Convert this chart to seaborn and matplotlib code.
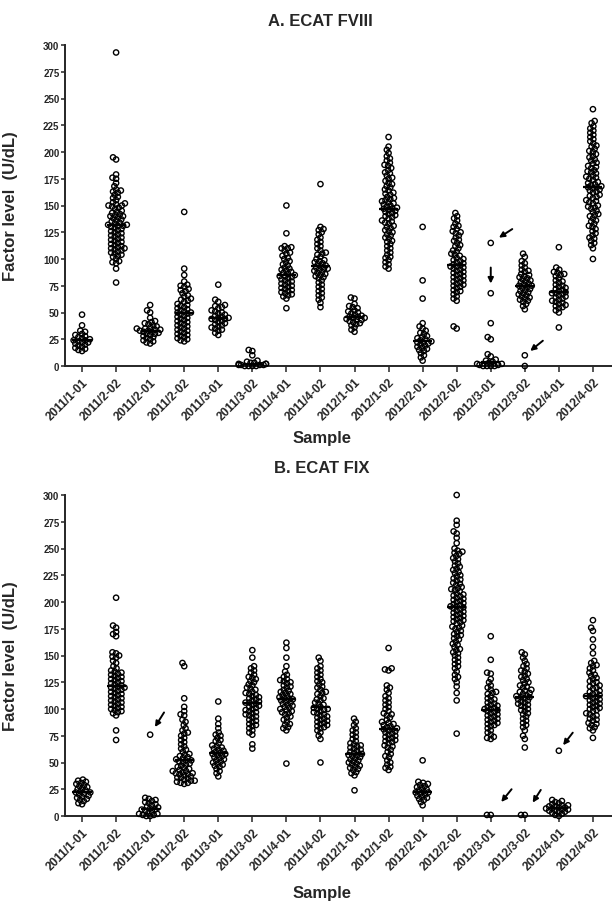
import numpy as np
import pandas as pd
import matplotlib
matplotlib.use("Agg")
import matplotlib.pyplot as plt
import seaborn as sns

# ---------------- data ----------------
labels = ["2011/1-01", "2011/2-02", "2011/2-01", "2011/2-02", "2011/3-01", "2011/3-02",
          "2011/4-01", "2011/4-02", "2012/1-01", "2012/1-02", "2012/2-01", "2012/2-02",
          "2012/3-01", "2012/3-02", "2012/4-01", "2012/4-02"]

# A. ECAT FVIII (U/dL)
fviii_2011_1_01 = [48, 38, 33, 32, 30, 29, 28, 27, 26, 25, 24, 24, 23, 22, 22, 21, 20, 19, 18, 17, 16, 15, 14]
fviii_2011_1_02 = [293, 195, 193, 179, 176, 175, 171, 168, 165, 164, 163, 162, 160, 158, 157, 155, 153, 152,
                   151, 150, 150, 149, 148, 147, 145, 144, 143, 142, 141, 140, 140, 139, 138, 137, 136, 135,
                   134, 133, 132, 132, 131, 131, 130, 129, 128, 127, 126, 125, 124, 123, 122, 121, 120, 119,
                   118, 117, 116, 115, 114, 113, 112, 111, 110, 110, 109, 108, 107, 106, 105, 104, 103, 102,
                   100, 98, 97, 96, 91, 78]
fviii_2011_2_01 = [57, 52, 50, 45, 42, 41, 40, 39, 38, 37, 36, 35, 35, 34, 34, 33, 33, 32, 32, 31, 30, 30, 29,
                   28, 27, 26, 25, 24, 23, 22, 21]
fviii_2011_2_02 = [144, 91, 85, 79, 76, 75, 74, 72, 71, 70, 68, 66, 65, 63, 62, 61, 60, 58, 57, 56, 55, 54, 53,
                   52, 51, 50, 50, 49, 48, 47, 46, 45, 44, 43, 42, 41, 40, 39, 38, 37, 36, 35, 34, 33, 32, 31,
                   30, 29, 28, 27, 26, 25, 24, 23]
fviii_2011_3_01 = [76, 62, 60, 57, 56, 55, 54, 52, 51, 50, 49, 48, 47, 46, 45, 45, 44, 44, 43, 42, 41, 40, 39,
                   38, 37, 36, 35, 34, 33, 31, 29]
fviii_2011_3_02 = [15, 14, 10, 5, 4, 3, 3, 2, 2, 2, 1, 1, 1, 1, 0, 0, 0, 0]
fviii_2011_4_01 = [150, 124, 112, 111, 110, 110, 108, 106, 105, 103, 101, 100, 98, 97, 95, 94, 92, 91, 90, 89,
                   88, 87, 86, 85, 84, 84, 83, 82, 81, 80, 79, 78, 77, 76, 75, 74, 73, 72, 71, 70, 69, 68, 67,
                   66, 65, 63, 54]
fviii_2011_4_02 = [170, 130, 128, 127, 125, 123, 120, 118, 116, 114, 112, 110, 108, 106, 105, 104, 102, 100, 99,
                   98, 97, 96, 95, 94, 93, 92, 91, 91, 90, 89, 88, 87, 86, 85, 84, 83, 82, 80, 78, 76, 74, 72,
                   70, 68, 66, 64, 62, 59, 55]
fviii_2012_1_01 = [64, 63, 58, 56, 55, 54, 52, 51, 50, 49, 48, 47, 46, 46, 45, 45, 44, 43, 43, 42, 41, 40, 39,
                   38, 36, 34, 32]
fviii_2012_1_02 = [214, 205, 202, 199, 196, 194, 192, 190, 188, 187, 185, 183, 181, 180, 178, 176, 175, 173, 171,
                   170, 168, 167, 165, 164, 162, 161, 160, 158, 157, 156, 155, 154, 153, 152, 151, 150, 149, 148,
                   147, 147, 146, 145, 144, 143, 142, 141, 140, 139, 138, 136, 135, 134, 133, 131, 130, 129, 127,
                   126, 125, 123, 122, 120, 119, 117, 116, 114, 112, 110, 108, 106, 104, 102, 101, 99, 97, 95,
                   93, 91]
fviii_2012_2_01 = [130, 80, 63, 40, 37, 35, 33, 31, 30, 28, 27, 26, 25, 24, 23, 22, 22, 21, 20, 19, 18, 17, 16,
                   15, 14, 12, 10, 8, 5]
fviii_2012_2_02 = [143, 140, 138, 136, 133, 131, 130, 128, 126, 125, 124, 122, 120, 118, 117, 115, 113, 112, 110,
                   108, 107, 105, 104, 103, 101, 100, 99, 98, 97, 96, 95, 94, 93, 93, 92, 91, 90, 89, 88, 87, 86,
                   85, 84, 83, 82, 81, 80, 79, 78, 77, 76, 75, 74, 73, 71, 70, 69, 67, 65, 63, 61, 37, 35]
fviii_2012_3_01 = [115, 68, 40, 27, 25, 11, 9, 6, 5, 4, 3, 2, 2, 1, 1, 0, 0, 0, 0]
fviii_2012_3_02 = [105, 102, 98, 96, 94, 92, 90, 89, 88, 86, 85, 84, 83, 82, 81, 80, 79, 78, 77, 76, 75, 75, 74,
                   73, 72, 71, 70, 69, 68, 67, 66, 65, 64, 63, 62, 61, 60, 58, 56, 53, 10, 0]
fviii_2012_4_01 = [111, 92, 90, 88, 87, 86, 85, 84, 82, 80, 79, 78, 76, 75, 74, 73, 72, 71, 70, 69, 68, 68, 67,
                   66, 65, 64, 63, 62, 61, 60, 59, 58, 57, 56, 55, 54, 52, 50, 36]
fviii_2012_4_02 = [240, 229, 227, 224, 222, 220, 218, 216, 214, 212, 210, 208, 206, 205, 203, 201, 200, 198, 196,
                   195, 193, 192, 190, 189, 187, 186, 185, 183, 182, 181, 180, 178, 177, 176, 175, 174, 172, 171,
                   170, 169, 168, 167, 167, 166, 165, 164, 163, 162, 160, 159, 158, 157, 155, 154, 153, 152, 150,
                   149, 148, 147, 145, 144, 142, 141, 140, 138, 136, 135, 133, 131, 130, 128, 126, 124, 122, 120,
                   119, 117, 115, 113, 110, 100]

# B. ECAT FIX (U/dL)
fix_2011_1_01 = [34, 33, 32, 31, 30, 29, 28, 27, 26, 25, 24, 23, 22, 22, 21, 20, 19, 18, 17, 16, 15, 14, 12, 11]
fix_2011_1_02 = [204, 178, 176, 172, 170, 168, 153, 152, 150, 149, 148, 145, 143, 140, 138, 136, 135, 134, 133,
                 132, 131, 130, 129, 128, 127, 126, 125, 124, 123, 122, 121, 120, 120, 119, 118, 117, 116, 115,
                 114, 113, 112, 111, 110, 109, 108, 107, 106, 105, 104, 103, 102, 101, 100, 99, 98, 97, 96, 94,
                 80, 71]
fix_2011_2_01 = [76, 17, 16, 15, 14, 13, 12, 11, 10, 9, 8, 7, 6, 6, 5, 4, 3, 2, 2, 1, 1, 0, 0]
fix_2011_2_02 = [143, 140, 110, 102, 98, 95, 94, 90, 88, 85, 82, 80, 78, 77, 75, 73, 71, 69, 67, 65, 63, 62, 60,
                 58, 57, 56, 55, 54, 53, 52, 52, 51, 50, 49, 48, 47, 46, 45, 44, 43, 42, 42, 41, 40, 40, 39, 39,
                 38, 37, 36, 36, 35, 34, 33, 33, 32, 31, 31, 30]
fix_2011_3_01 = [107, 91, 86, 82, 78, 76, 75, 73, 71, 70, 68, 66, 65, 64, 63, 62, 61, 60, 59, 58, 58, 57, 56, 55,
                 54, 53, 52, 51, 50, 49, 48, 47, 46, 44, 42, 40, 37]
fix_2011_3_02 = [155, 148, 140, 138, 136, 134, 132, 130, 129, 128, 126, 125, 123, 122, 120, 119, 118, 116, 115,
                 114, 113, 112, 111, 110, 109, 108, 107, 106, 106, 105, 104, 103, 102, 101, 100, 99, 98, 97, 96,
                 95, 94, 93, 92, 90, 89, 88, 86, 85, 84, 82, 80, 78, 76, 67, 63]
fix_2011_4_01 = [162, 157, 148, 140, 135, 132, 130, 128, 127, 126, 125, 124, 122, 121, 120, 118, 117, 116, 115,
                 114, 113, 112, 111, 110, 109, 109, 108, 107, 106, 105, 104, 103, 102, 101, 100, 99, 98, 97, 96,
                 95, 93, 92, 90, 88, 86, 85, 83, 82, 80, 49]
fix_2011_4_02 = [148, 145, 140, 138, 136, 134, 132, 130, 128, 126, 125, 123, 121, 120, 118, 116, 115, 114, 112,
                 110, 109, 108, 106, 105, 104, 102, 101, 100, 100, 99, 98, 97, 96, 95, 94, 93, 92, 91, 90, 89,
                 88, 87, 86, 85, 84, 83, 82, 80, 78, 75, 72, 50]
fix_2012_1_01 = [91, 88, 85, 82, 80, 78, 76, 74, 72, 70, 68, 67, 66, 65, 64, 63, 62, 61, 60, 59, 58, 57, 57, 56,
                 55, 54, 53, 52, 51, 50, 49, 48, 47, 46, 45, 44, 43, 41, 40, 38, 24]
fix_2012_1_02 = [157, 138, 137, 136, 122, 120, 118, 115, 112, 110, 108, 106, 104, 102, 100, 98, 96, 95, 94, 92,
                 90, 88, 87, 86, 85, 84, 83, 82, 81, 81, 80, 79, 78, 77, 76, 75, 74, 73, 72, 71, 70, 69, 68, 66,
                 65, 64, 62, 60, 58, 56, 55, 52, 50, 48, 46, 45, 43]
fix_2012_2_01 = [52, 32, 31, 30, 29, 28, 27, 26, 25, 24, 23, 22, 22, 21, 20, 19, 18, 17, 16, 15, 13, 10]
fix_2012_2_02 = [300, 276, 272, 266, 264, 260, 255, 250, 248, 247, 246, 245, 243, 241, 240, 238, 236, 234, 233,
                 231, 230, 228, 227, 225, 224, 222, 221, 220, 218, 217, 216, 214, 213, 212, 211, 210, 208, 207,
                 206, 205, 204, 203, 202, 201, 200, 199, 198, 197, 196, 196, 195, 194, 193, 192, 191, 190, 189,
                 188, 187, 186, 185, 184, 183, 182, 181, 180, 178, 177, 176, 175, 173, 172, 170, 169, 168, 166,
                 165, 163, 161, 160, 158, 156, 155, 153, 152, 150, 148, 146, 144, 142, 140, 138, 135, 132, 130,
                 128, 125, 121, 115, 108, 77]
fix_2012_3_01 = [168, 146, 134, 133, 128, 125, 122, 120, 118, 116, 115, 114, 112, 110, 109, 108, 106, 105, 104,
                 103, 102, 101, 100, 100, 99, 98, 97, 96, 95, 94, 93, 92, 91, 90, 89, 88, 87, 86, 85, 84, 82, 80,
                 78, 76, 74, 73, 72, 1, 1]
fix_2012_3_02 = [153, 151, 148, 145, 142, 140, 138, 136, 135, 133, 131, 130, 128, 127, 125, 124, 122, 121, 120,
                 118, 117, 116, 115, 114, 113, 112, 111, 111, 110, 109, 108, 107, 106, 105, 104, 103, 102, 100,
                 99, 98, 96, 95, 93, 91, 89, 87, 85, 83, 80, 75, 72, 64, 1, 1]
fix_2012_4_01 = [61, 15, 14, 13, 12, 11, 10, 10, 9, 9, 8, 8, 7, 7, 6, 6, 5, 5, 4, 4, 3, 2, 1, 0]
fix_2012_4_02 = [183, 176, 173, 165, 158, 152, 145, 143, 141, 140, 138, 136, 134, 132, 131, 129, 128, 126, 125,
                 124, 122, 121, 120, 119, 117, 116, 115, 114, 113, 112, 112, 111, 110, 109, 108, 107, 106, 105,
                 104, 103, 102, 101, 100, 99, 98, 96, 95, 94, 93, 91, 90, 89, 87, 86, 85, 83, 82, 80, 73]

fviii_groups = [fviii_2011_1_01, fviii_2011_1_02, fviii_2011_2_01, fviii_2011_2_02, fviii_2011_3_01,
                fviii_2011_3_02, fviii_2011_4_01, fviii_2011_4_02, fviii_2012_1_01, fviii_2012_1_02,
                fviii_2012_2_01, fviii_2012_2_02, fviii_2012_3_01, fviii_2012_3_02, fviii_2012_4_01,
                fviii_2012_4_02]
fix_groups = [fix_2011_1_01, fix_2011_1_02, fix_2011_2_01, fix_2011_2_02, fix_2011_3_01, fix_2011_3_02,
              fix_2011_4_01, fix_2011_4_02, fix_2012_1_01, fix_2012_1_02, fix_2012_2_01, fix_2012_2_02,
              fix_2012_3_01, fix_2012_3_02, fix_2012_4_01, fix_2012_4_02]

# ---------------- style ----------------
sns.set_style("ticks")
plt.rcParams["font.family"] = ["Liberation Sans", "DejaVu Sans"]
plt.rcParams["font.weight"] = "bold"
plt.rcParams["axes.labelweight"] = "bold"

W, H = 612, 904
fig = plt.figure(figsize=(W / 100, H / 100), dpi=100)


def frac_x(px):
    return px / W


def frac_y(py):
    return 1 - py / H


axA = fig.add_axes([frac_x(65), frac_y(367), (W - 65) / W, (367 - 46) / H])
axB = fig.add_axes([frac_x(65), frac_y(817), (W - 65) / W, (817 - 496) / H])


def panel(ax, groups):
    n = len(groups)
    df = pd.DataFrame({
        "pos": np.repeat(np.arange(n), [len(g) for g in groups]),
        "value": np.concatenate([np.asarray(g, float) for g in groups]),
    })
    ax.set_xlim(-0.5, 15.56)
    ax.set_ylim(0, 300)
    sns.swarmplot(data=df, x="pos", y="value", order=list(range(n)), ax=ax,
                  size=2.6, color="black", warn_thresh=1)
    ax.set_xlim(-0.5, 15.56)
    ax.set_ylim(0, 300)
    for i, g in enumerate(groups):
        ax.hlines(np.median(g), i - 0.28, i + 0.28, color="black", lw=1.6, zorder=5)
    ax.set_yticks(np.arange(0, 301, 25))
    ax.set_xticks(np.arange(n))
    ax.set_xticklabels(labels, rotation=45, ha="right", va="top", rotation_mode="anchor",
                       fontsize=8.6, fontweight="bold")
    for t in ax.get_yticklabels():
        t.set_fontsize(7)
        t.set_fontweight("bold")
    ax.tick_params(axis="y", length=3, width=1.1, pad=1)
    ax.tick_params(axis="x", length=4, width=1.1, pad=3)
    ax.set_xlabel("")
    ax.set_ylabel("Factor level  (U/dL)", fontsize=12, fontweight="bold")
    ax.yaxis.set_label_coords((18 - 65) / (W - 65), 0.5)
    sns.despine(ax=ax)
    for s in ("left", "bottom"):
        ax.spines[s].set_linewidth(1.4)


panel(axA, fviii_groups)
panel(axB, fix_groups)

# freeze swarm layout, then draw markers at final size
fig.canvas.draw()
for ax in (axA, axB):
    for c in ax.collections:
        if type(c).__name__ == "PathCollection":
            c.__dict__.pop("draw", None)
            c.set_sizes([3.8 ** 2])
            c.set_facecolor("none")
            c.set_edgecolor("black")
            c.set_linewidth(1.0)
            c.set_clip_on(False)

# arrows pointing at particular samples
arrow_kw = dict(arrowstyle="-|>", color="black", lw=1.4, mutation_scale=8, shrinkA=0)


def arrow(ax, cat, val, dx, dy, shrink):
    ax.annotate("", xy=(cat, val), xytext=(dx, dy), textcoords="offset points",
                arrowprops=dict(shrinkB=shrink, **arrow_kw))


arrow(axA, 12, max(fviii_2012_3_01), 15.5, 10, 7)
arrow(axA, 12, sorted(fviii_2012_3_01)[-2], 0, 18.5, 7)
arrow(axA, 13, sorted(fviii_2012_3_02)[1], 13, 10.5, 5)
arrow(axB, 2, max(fix_2011_2_01), 10, 16, 6.5)
arrow(axB, 12, min(fix_2012_3_01), 15, 18.5, 12)
arrow(axB, 13, min(fix_2012_3_02), 11.5, 18, 10.5)
arrow(axB, 14, max(fix_2012_4_01), 10, 13, 5)

# titles and axis titles
fig.text(frac_x(320), frac_y(22), "A. ECAT FVIII", ha="center", va="center", fontsize=12, fontweight="bold")
fig.text(frac_x(322), frac_y(469), "B. ECAT FIX", ha="center", va="center", fontsize=12, fontweight="bold")
fig.text(frac_x(322), frac_y(438), "Sample", ha="center", va="center", fontsize=12, fontweight="bold")
fig.text(frac_x(322), frac_y(894), "Sample", ha="center", va="center", fontsize=12, fontweight="bold")

fig.savefig("out.png", dpi=100)
